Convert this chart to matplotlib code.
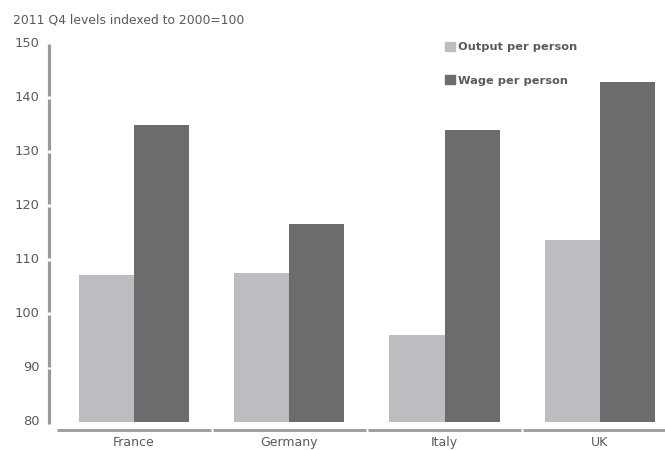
import matplotlib
matplotlib.use("Agg")
import matplotlib.pyplot as plt
from matplotlib.patches import Patch
import numpy as np

countries = ["France", "Germany", "Italy", "UK"]
output_per_person = [107.1, 107.5, 96.1, 113.6]
wage_per_person = [134.8, 116.5, 133.9, 142.9]
yticks = [80, 90, 100, 110, 120, 130, 140, 150]

light = "#bcbdc0"
dark = "#6b6c6e"
axis_grey = "#9a9a9c"
text_grey = "#5a5a5c"

plt.rcParams["font.family"] = ["DejaVu Sans"]

fig = plt.figure(figsize=(6.65, 4.5), dpi=100)
ax = fig.add_axes([48 / 665, 0.0382, 1 - 48 / 665, 0.878])

x = np.arange(len(countries))
w = 0.355
base = 80
ax.bar(x - w / 2, np.array(output_per_person) - base, w, bottom=base, color=light,
       label="Output per person")
ax.bar(x + w / 2, np.array(wage_per_person) - base, w, bottom=base, color=dark,
       label="Wage per person")

x0, x1 = -0.554, 3.42
ax.set_xlim(x0, x1)
ax.set_ylim(78, 151)

for s in ax.spines.values():
    s.set_visible(False)
ax.set_xticks([])
ax.set_yticks([])

# y axis drawn as segments broken at each tick
gap = 0.25
ylo = [base - 0.4] + [t + gap for t in yticks[1:-1]]
yhi = [t - gap for t in yticks[1:]]
for a, b in zip(ylo, yhi):
    ax.plot([x0 + 0.004, x0 + 0.004], [a, b], color=axis_grey, lw=2.3,
            solid_capstyle="butt", clip_on=False)
for t in yticks:
    ax.text(x0 - 0.055, t, str(t), ha="right", va="center", fontsize=9.4,
            color=text_grey)

# x axis segments, one per category
edges = [x0 + 0.055] + list(x[:-1] + 0.5) + [x1 + 0.2]
yline = 78.55
for i in range(len(countries)):
    a = edges[i] + (0.007 if i > 0 else 0)
    b = edges[i + 1] - 0.007
    ax.plot([a, b], [yline, yline], color=axis_grey, lw=2.0,
            solid_capstyle="butt", clip_on=False)
    ax.text(x[i], 76.2, countries[i], ha="center", va="center", fontsize=9,
            color=text_grey)

fig.text(13 / 665, 1 - 20 / 450, "2011 Q4 levels indexed to 2000=100",
         ha="left", va="center", fontsize=8.9, color=text_grey)

handles = [Patch(color=light), Patch(color=dark)]
leg = ax.legend(handles, ["Output per person", "Wage per person"],
                loc="upper left", bbox_to_anchor=(445 / 665, 1 - 42 / 450),
                bbox_transform=fig.transFigure, frameon=False,
                handlelength=0.85, handleheight=0.85, handletextpad=0.3,
                labelspacing=2.0, borderpad=0, borderaxespad=0,
                prop={"weight": "bold", "size": 8.2})
for t in leg.get_texts():
    t.set_color(text_grey)

fig.savefig("out.png", dpi=100)
